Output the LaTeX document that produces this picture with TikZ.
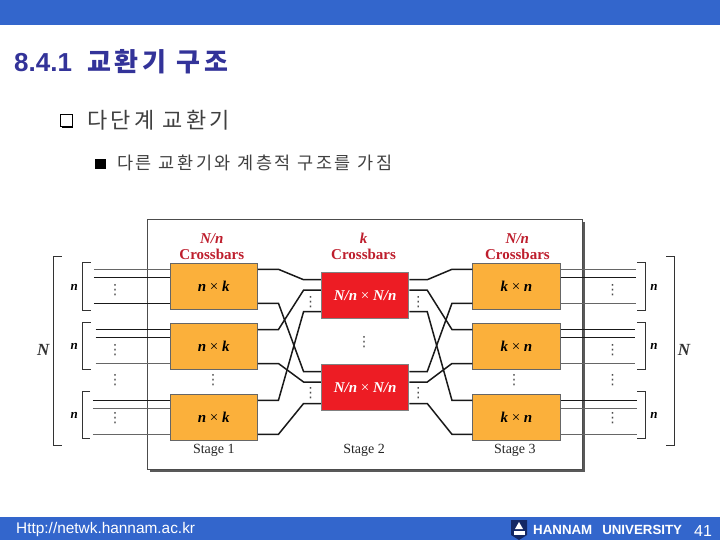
\documentclass[tikz,border=0pt]{standalone}
\usepackage{fontspec}
\usepackage{amsmath}
\usetikzlibrary{positioning,calc,shadows}
\setmainfont{Liberation Serif}
\newfontfamily\sansfont{Liberation Sans}
\newfontfamily\krfont[LetterSpace=15]{Noto Sans CJK KR}
\newfontfamily\dotfont{DejaVu Sans}
\definecolor{BandBlue}{RGB}{51,102,204}
\definecolor{TitleBlue}{RGB}{51,51,153}
\definecolor{BoxOrange}{RGB}{251,176,59}
\definecolor{BoxRed}{RGB}{237,28,36}
\definecolor{HeadRed}{RGB}{190,30,45}
\definecolor{LogoBlue}{RGB}{20,40,100}
\tikzset{
  band/.style={fill=BandBlue, draw=none, minimum width=720pt, inner sep=0pt, outer sep=0pt},
  crossbox/.style={draw=black!60, line width=0.8pt, fill=BoxOrange, minimum width=87.5pt, minimum height=46pt, inner sep=0pt, font=\fontsize{15}{15}\selectfont\bfseries\itshape},
  redbox/.style={draw=black!50, line width=0.8pt, fill=BoxRed, text=white, minimum width=87.5pt, minimum height=46pt, inner sep=0pt, font=\fontsize{15}{15}\selectfont\bfseries\itshape},
  headlabel/.style={text=HeadRed, inner sep=0pt, font=\fontsize{15}{15}\selectfont\bfseries},
  headitalic/.style={text=HeadRed, inner sep=0pt, font=\fontsize{15}{15}\selectfont\bfseries\itshape},
  stagelabel/.style={inner sep=0pt, text=black!85, font=\fontsize{14}{14}\selectfont},
  sizelabel/.style={inner sep=0pt, font=\fontsize{13}{13}\selectfont\bfseries\itshape},
  biglabel/.style={inner sep=0pt, font=\fontsize{17}{17}\selectfont\bfseries\itshape, text=black!80},
  vdotsnode/.style={inner sep=0pt, text=black!70, font=\fontsize{14}{14}\selectfont\dotfont},
  wirek/.style={draw=black!90, line width=1.5pt},
  wireg/.style={draw=black!60, line width=1.2pt},
  xwire/.style 2 args={to path={-- ++(#1,0) -- ([xshift=-#2]\tikztotarget) -- (\tikztotarget)}},
  bracket/.style={draw=black!80, line width=0.8pt},
}
\begin{document}
\begin{tikzpicture}[x=1pt, y=-1pt, node distance=13.4pt]
\useasboundingbox (0,0) rectangle (720,540);
\fill[white] (0,0) rectangle (720,540);

% bands
\node[band, minimum height=24.7pt, anchor=north west] (topband) at (0,0) {};
\node[band, minimum height=23pt, anchor=south west] (botband) at (0,540) {};

% heading and bullets
\node[anchor=west, inner sep=0pt, text=TitleBlue, font=\fontsize{26}{26}\selectfont\bfseries] (title) at (14,62) {\sansfont 8.4.1\hspace{15pt}\krfont 교환기 구조};
\node[draw=black, line width=0.8pt, fill=white, minimum size=11.5pt, inner sep=0pt, drop shadow={opacity=1, fill=black, shadow xshift=1pt, shadow yshift=-1.5pt}] (bulleta) at (66.5,120.5) {};
\node[anchor=west, inner sep=0pt, text=black!75, font=\fontsize{22}{22}\selectfont\krfont] (linea) at (87,120) {다단계 교환기};
\node[fill=black, minimum size=10.5pt, inner sep=0pt] (bulletb) at (100.5,164) {};
\node[anchor=west, inner sep=0pt, text=black!75, font=\fontsize{17.5}{17.5}\selectfont\krfont] (lineb) at (117,163) {다른 교환기와 계층적 구조를 가짐};

% panel
\node[draw=black!70, line width=0.8pt, fill=white, minimum width=435pt, minimum height=250pt, inner sep=0pt, anchor=north west, drop shadow={opacity=1, fill=black!65, shadow xshift=2.5pt, shadow yshift=-2.5pt}] (panel) at (146.7,219.3) {};

% crossbars
\node[crossbox] (s1a) at (213.8,286.3) {n {\upshape\mdseries ×} k};
\node[crossbox, below=of s1a] (s1b) {n {\upshape\mdseries ×} k};
\node[crossbox, below=24pt of s1b] (s1c) {n {\upshape\mdseries ×} k};
\node[redbox, right=63pt of s1a, yshift=-9.4pt] (r1) {N/n {\upshape\mdseries ×} N/n};
\node[redbox, below=45pt of r1] (r2) {N/n {\upshape\mdseries ×} N/n};
\node[crossbox, right=63pt of r1, yshift=9.4pt] (s3a) {k {\upshape\mdseries ×} n};
\node[crossbox, below=of s3a] (s3b) {k {\upshape\mdseries ×} n};
\node[crossbox, below=24pt of s3b] (s3c) {k {\upshape\mdseries ×} n};

% heads and stage names
\node[headlabel, above=3pt of s1a, xshift=-2pt] (h1b) {Crossbars};
\node[headitalic, above=5.5pt of h1b] (h1a) {N/n};
\node[headlabel, above=12pt of r1, xshift=-1.5pt] (h2b) {Crossbars};
\node[headitalic, above=5.5pt of h2b] (h2a) {k};
\node[headlabel, above=3pt of s3a, xshift=1pt] (h3b) {Crossbars};
\node[headitalic, above=5.5pt of h3b] (h3a) {N/n};
\node[stagelabel, below=3.5pt of s1c] (st1) {Stage 1};
\node[stagelabel, xshift=-1pt] (st2) at (r2 |- st1) {Stage 2};
\node[stagelabel, below=3.5pt of s3c, xshift=-1.5pt] (st3) {Stage 3};

% ports
\foreach \bx in {s1a,s1b,s1c,s3a,s3b,s3c}{
  \coordinate (\bx-wa) at ([yshift=17pt]\bx.west);
  \coordinate (\bx-wb) at ([yshift=8.8pt]\bx.west);
  \coordinate (\bx-wc) at ([yshift=-17pt]\bx.west);
  \coordinate (\bx-ea) at ([yshift=17pt]\bx.east);
  \coordinate (\bx-eb) at ([yshift=8.8pt]\bx.east);
  \coordinate (\bx-ec) at ([yshift=-17pt]\bx.east);
}
\foreach \bx in {r1,r2}{
  \coordinate (\bx-wa) at ([yshift=16pt]\bx.west);
  \coordinate (\bx-wb) at ([yshift=5.5pt]\bx.west);
  \coordinate (\bx-wc) at ([yshift=-16pt]\bx.west);
  \coordinate (\bx-ea) at ([yshift=16pt]\bx.east);
  \coordinate (\bx-eb) at ([yshift=5.5pt]\bx.east);
  \coordinate (\bx-ec) at ([yshift=-16pt]\bx.east);
}

% wires in and out
\foreach \bx/\len/\wa/\wb/\wc in {s1a/75.7/wireg/wirek/wirek, s1b/74/wirek/wirek/wireg, s1c/76.7/wirek/wireg/wireg}{
  \coordinate (\bx-ia) at ([xshift=-\len pt]\bx-wa);
  \coordinate (\bx-ib) at ([xshift=-\len pt]\bx-wb);
  \coordinate (\bx-ic) at ([xshift=-\len pt]\bx-wc);
  \draw[\wa] (\bx-ia) -- (\bx-wa);
  \draw[\wb] (\bx-ib) -- (\bx-wb);
  \draw[\wc] (\bx-ic) -- (\bx-wc);
}
\foreach \bx/\len/\wa/\wb/\wc in {s3a/75.3/wireg/wirek/wireg, s3b/74.3/wirek/wirek/wireg, s3c/76.3/wirek/wireg/wireg}{
  \coordinate (\bx-oa) at ([xshift=\len pt]\bx-ea);
  \coordinate (\bx-ob) at ([xshift=\len pt]\bx-eb);
  \coordinate (\bx-oc) at ([xshift=\len pt]\bx-ec);
  \draw[\wa] (\bx-ea) -- (\bx-oa);
  \draw[\wb] (\bx-eb) -- (\bx-ob);
  \draw[\wc] (\bx-ec) -- (\bx-oc);
}

% wires between stages
\draw[wirek, xwire={20.5pt}{17.4pt}] (s1a-ea) to (r1-wa);
\draw[wirek, xwire={20.5pt}{17.4pt}] (s1a-ec) to (r2-wa);
\draw[wirek, xwire={20.5pt}{17.4pt}] (s1b-ea) to (r1-wb);
\draw[wirek, xwire={20.5pt}{17.4pt}] (s1b-ec) to (r2-wb);
\draw[wirek, xwire={20.5pt}{17.4pt}] (s1c-ea) to (r1-wc);
\draw[wirek, xwire={20.5pt}{17.4pt}] (s1c-ec) to (r2-wc);
\draw[wirek, xwire={18pt}{20.3pt}] (r1-ea) to (s3a-wa);
\draw[wirek, xwire={18pt}{20.3pt}] (r1-eb) to (s3b-wa);
\draw[wirek, xwire={18pt}{20.3pt}] (r1-ec) to (s3c-wa);
\draw[wirek, xwire={18pt}{20.3pt}] (r2-ea) to (s3a-wc);
\draw[wirek, xwire={18pt}{20.3pt}] (r2-eb) to (s3b-wc);
\draw[wirek, xwire={18pt}{20.3pt}] (r2-ec) to (s3c-wc);

% dots
\foreach \nm/\px/\py in {da/115/290, db/115/350, dc/115/380, dd/115/418, de/213/380, df/310.7/301.7, dg/310.7/392.7, dh/364/341.7, di/418.3/301.7, dj/418.3/392.7, dk/514/380, dl/612.7/290, dm/612.7/350, dn/612.7/380, dp/612.7/418}
  \node[vdotsnode] (\nm) at (\px,\py) {⋮};

% brackets
\draw[bracket] (90.7,262.7) -| (82.7,310) -- (90.7,310);
\draw[bracket] (90.7,322) -| (82.7,369.3) -- (90.7,369.3);
\draw[bracket] (90,391) -| (82,438.3) -- (90,438.3);
\draw[bracket] (61.7,256) -| (53.3,445) -- (61.7,445);
\draw[bracket] (637.3,262.7) -| (645.7,310) -- (637.3,310);
\draw[bracket] (637.3,322) -| (645.7,369.3) -- (637.3,369.3);
\draw[bracket] (637.3,391) -| (645.7,438.3) -- (637.3,438.3);
\draw[bracket] (666,256) -| (674.3,445) -- (666,445);

% size labels
\node[sizelabel] (na) at (74.3,287.3) {n};
\node[sizelabel] (nb) at (74.3,346.7) {n};
\node[sizelabel] (nc) at (74.3,415.7) {n};
\node[sizelabel] (nd) at (654,287.3) {n};
\node[sizelabel] (ne) at (654,346.7) {n};
\node[sizelabel] (nf) at (654,415.7) {n};
\node[biglabel] (bigl) at (43.3,350) {N};
\node[biglabel] (bigr) at (684,350) {N};

% footer
\node[anchor=west, inner sep=0pt, text=white, font=\fontsize{15.4}{15.4}\selectfont\sansfont] (url) at (16,530) {Http://netwk.hannam.ac.kr};
\fill[LogoBlue] (511,520) -- (527,520) -- (527,535) -- (519,540) -- (511,535) -- cycle;
\fill[white] (519,522) -- (523,529) -- (515,529) -- cycle;
\fill[white] (513.5,531) rectangle (524.5,535);
\node[anchor=west, inner sep=0pt, text=white, font=\fontsize{13.3}{13.3}\selectfont\sansfont\bfseries] (univ) at (533,530) {HANNAM\hspace{10pt}UNIVERSITY};
\node[anchor=west, inner sep=0pt, text=white, font=\fontsize{16}{16}\selectfont\sansfont] (pageno) at (694,531) {41};
\end{tikzpicture}
\end{document}
